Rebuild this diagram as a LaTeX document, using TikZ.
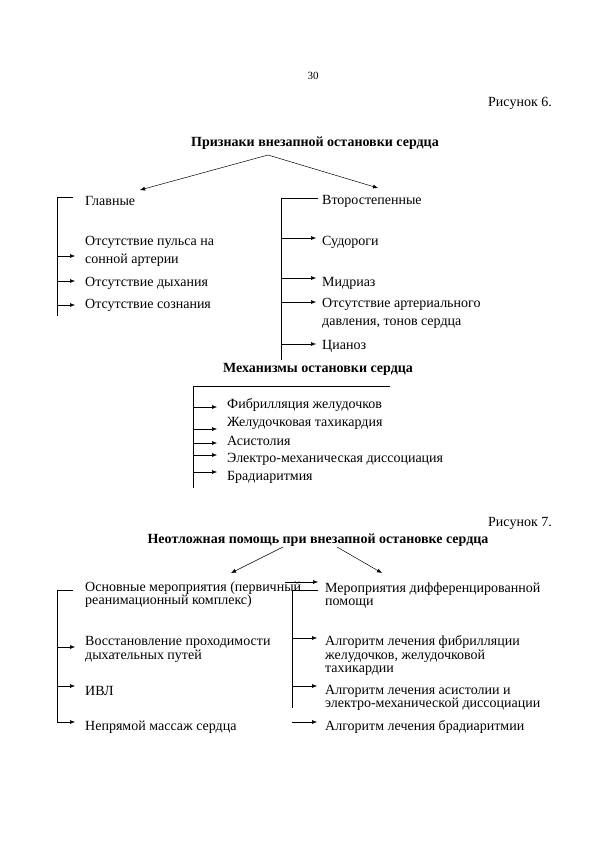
\documentclass[tikz,border=0pt]{standalone}
\usepackage{fontspec}
\setmainfont{Liberation Serif}
\usetikzlibrary{arrows.meta,calc}

\begin{document}
\begin{tikzpicture}[x=1pt,y=-1pt]
\tikzstyle{every node}+=[inner sep=0pt]
\tikzstyle{txt}=[anchor=west,align=left,font=\fontsize{14}{18}\selectfont]
\tikzstyle{txtb}=[anchor=west,align=left,font=\fontsize{14}{12.5}\selectfont]
\tikzstyle{ttl}=[font=\fontsize{14}{17}\selectfont\bfseries]
\tikzset{arr/.style={black,line width=0.5pt,-{Latex[length=5pt,width=4pt]},shorten >=#1},arr/.default=0pt}
\tikzstyle{bus}=[black,line width=0.5pt]
\path [use as bounding box,fill=white] (0,0) rectangle (594,841);
\node [font=\fontsize{11}{13}\selectfont] (pg) at (313,76) {30};
\node [anchor=east,font=\fontsize{14}{17}\selectfont] (fig6) at (552,103) {Рисунок 6.};
\node [ttl] (prizn) at (315,143) {Признаки внезапной остановки сердца};
\coordinate (a0) at (268,155);
\coordinate (a1) at (140,190);
\coordinate (a2) at (378,188);
\draw [arr] (a0) -- (a1);
\draw [arr] (a0) -- (a2);
\node [txt] (glav) at (85,201) {Главные};
\node [txt] (puls) at (85,251) {Отсутствие пульса на\\сонной артерии};
\node [txt] (dyh) at (85,283) {Отсутствие дыхания};
\node [txt] (soz) at (85,305) {Отсутствие сознания};
\coordinate (lb1) at (57,197);
\coordinate (lb2) at (57,316);
\draw [bus] (lb1) -- (lb2);
\draw [bus,shorten >=12pt] (lb1) -- (lb1 -| glav.west);
\draw [arr=10pt] ($(lb1 |- puls.west)+(0,5)$) -- ($(puls.west)+(0,5)$);
\draw [arr=10pt] ($(lb1 |- dyh.west)+(0,-2)$) -- ($(dyh.west)+(0,-2)$);
\draw [arr=10pt] (lb1 |- soz.west) -- (soz.west);
\node [txt] (vtor) at (322,201) {Второстепенные};
\node [txt] (sud) at (322,242) {Судороги};
\node [txt] (midr) at (322,283) {Мидриаз};
\node [txt] (dav) at (322,313.5) {Отсутствие артериального\\давления, тонов сердца};
\node [txt] (cian) at (322,346) {Цианоз};
\coordinate (rb1) at (281,198);
\coordinate (rb2) at (281,360);
\draw [bus] (rb1) -- (rb2);
\draw [bus,shorten >=4pt] (rb1) -- (rb1 -| vtor.west);
\draw [arr=6pt] ($(rb1 |- sud.west)+(0,-4)$) -- ($(sud.west)+(0,-4)$);
\draw [arr=6pt] ($(rb1 |- midr.west)+(0,-5)$) -- ($(midr.west)+(0,-5)$);
\draw [arr=6pt] ($(rb1 |- dav.west)+(0,-11.5)$) -- ($(dav.west)+(0,-11.5)$);
\draw [arr=6pt] ($(rb1 |- cian.west)+(0,-2)$) -- ($(cian.west)+(0,-2)$);
\node [ttl] (mech) at (318,369) {Механизмы остановки сердца};
\node [txt] (m1) at (227,405) {Фибрилляция желудочков};
\node [txt] (m2) at (227,423) {Желудочковая тахикардия};
\node [txt] (m3) at (227,441) {Асистолия};
\node [txt] (m4) at (227,459) {Электро-механическая диссоциация};
\node [txt] (m5) at (227,477) {Брадиаритмия};
\coordinate (mb1) at (193,386);
\coordinate (mb2) at (193,488);
\coordinate (mb3) at (390,386);
\draw [bus] (mb3) -- (mb1) -- (mb2);
\draw [arr=10pt] ($(mb1 |- m1.west)+(0,2)$) -- ($(m1.west)+(0,2)$);
\draw [arr=10pt] ($(mb1 |- m2.west)+(0,6)$) -- ($(m2.west)+(0,6)$);
\draw [arr=10pt] ($(mb1 |- m3.west)+(0,2)$) -- ($(m3.west)+(0,2)$);
\draw [arr=10pt] ($(mb1 |- m4.west)+(0,-4)$) -- ($(m4.west)+(0,-4)$);
\draw [arr=10pt] ($(mb1 |- m5.west)+(0,-5)$) -- ($(m5.west)+(0,-5)$);
\node [anchor=east,font=\fontsize{14}{17}\selectfont] (fig7) at (552,523) {Рисунок 7.};
\node [ttl] (help) at (318,540) {Неотложная помощь при внезапной остановке сердца};
\coordinate (b0) at (283,547);
\coordinate (b1) at (231,573);
\coordinate (c0) at (337,547);
\coordinate (c1) at (382,573);
\draw [arr] (b0) -- (b1);
\draw [arr] (c0) -- (c1);
\node [txtb] (osn) at (85,594.5) {Основные мероприятия (первичный\\реанимационный комплекс)};
\node [txtb] (vos) at (85,649.5) {Восстановление проходимости\\дыхательных путей};
\node [txtb] (ivl) at (85,691) {ИВЛ};
\node [txtb] (nep) at (85,727) {Непрямой массаж сердца};
\coordinate (lc1) at (57,590);
\coordinate (lc2) at (57,723);
\draw [bus] (lc1) -- (lc2);
\draw [bus,shorten >=12pt] (lc1) -- (lc1 -| osn.west);
\draw [arr=10pt] ($(lc1 |- vos.west)+(0,-2.5)$) -- ($(vos.west)+(0,-2.5)$);
\draw [arr=10pt] ($(lc1 |- ivl.west)+(0,-5)$) -- ($(ivl.west)+(0,-5)$);
\draw [arr=10pt] ($(lc1 |- nep.west)+(0,-5)$) -- ($(nep.west)+(0,-5)$);
\node [txtb] (dif) at (325,595.5) {Мероприятия дифференцированной\\помощи};
\node [txtb] (fib) at (325,655.5) {Алгоритм лечения фибрилляции\\желудочков, желудочковой\\тахикардии};
\node [txtb] (asi) at (325,698) {Алгоритм лечения асистолии и\\электро-механической диссоциации};
\node [txtb] (bra) at (325,727) {Алгоритм лечения брадиаритмии};
\coordinate (rc1) at (292,590);
\coordinate (rc2) at (292,708);
\coordinate (d0) at (285,582);
\draw [bus] (rc1) -- (rc2);
\draw [bus,shorten >=7pt] (rc1) -- (rc1 -| dif.west);
\draw [arr=7pt] (d0) -- (d0 -| dif.west);
\draw [arr=8pt] ($(rc1 |- fib.west)+(0,-17.5)$) -- ($(fib.west)+(0,-17.5)$);
\draw [arr=8pt] ($(rc1 |- asi.west)+(0,-12)$) -- ($(asi.west)+(0,-12)$);
\draw [arr=8pt] ($(rc1 |- bra.west)+(0,-5)$) -- ($(bra.west)+(0,-5)$);
\end{tikzpicture}
\end{document}
